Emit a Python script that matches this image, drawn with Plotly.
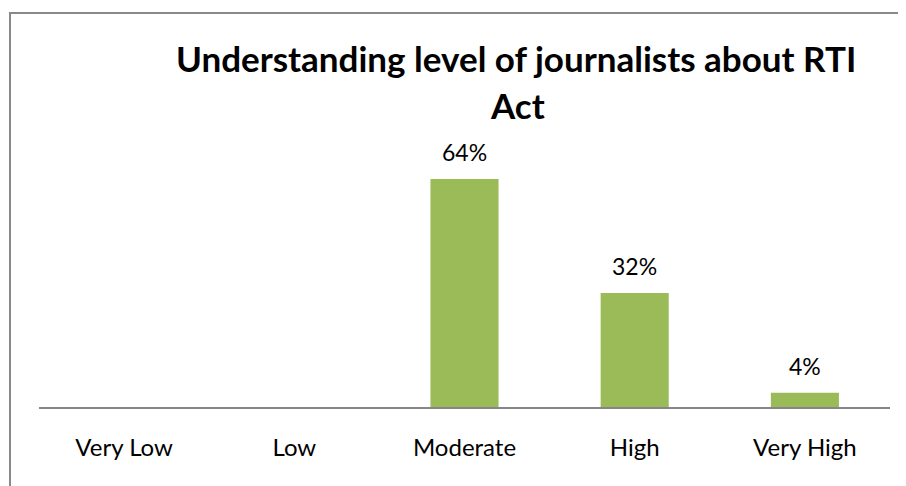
import plotly.graph_objects as go

categories = ["Very Low", "Low", "Moderate", "High", "Very High"]
values = [0, 0, 0.64, 0.32, 0.04]
title_lines = ["Understanding level of journalists about RTI", "Act"]

# page is rendered with an 8px body margin; figure coordinates = page - 8
W, H = 898, 478
L, R, T, B = 31, 16, 150, 79
pw, ph = W - L - R, H - T - B
FONT = "Lato, Open Sans, sans-serif"

fig = go.Figure()
fig.add_trace(go.Bar(
    x=categories, y=values,
    marker=dict(color="#9BBB59", line=dict(width=0)),
    width=0.4, hoverinfo="skip",
))

for c, v in zip(categories, values):
    if v > 0:
        fig.add_annotation(x=c, y=v, text=f"{round(v*100)}%", showarrow=False,
                           yanchor="middle", yshift=27,
                           font=dict(family=FONT, size=23, color="#000"))

def px_x(p):
    return (p - 8 - L) / pw

def px_y(p):
    return (H - B - (p - 8)) / ph

fig.add_annotation(xref="paper", yref="paper", x=px_x(516), y=px_y(58), text=f"<b>{title_lines[0]}</b>",
                   showarrow=False, xanchor="center", yanchor="middle",
                   font=dict(family=FONT, size=35, color="#000"))
fig.add_annotation(xref="paper", yref="paper", x=px_x(517), y=px_y(105), text=f"<b>{title_lines[1]}</b>",
                   showarrow=False, xanchor="center", yanchor="middle",
                   font=dict(family=FONT, size=35, color="#000"))

fig.add_shape(type="rect", xref="paper", yref="paper",
              x0=px_x(10), x1=px_x(930), y0=px_y(520), y1=px_y(13),
              line=dict(color="#898989", width=2), layer="below")

fig.update_layout(
    width=W, height=H,
    margin=dict(l=L, r=R, t=T, b=B),
    paper_bgcolor="white", plot_bgcolor="white",
    showlegend=False,
    xaxis=dict(showline=True, linecolor="#868686", linewidth=2, ticks="",
               tickfont=dict(family=FONT, size=24, color="#000"),
               showgrid=False, zeroline=False, ticklabelstandoff=18),
    yaxis=dict(range=[0, 0.699], visible=False, showgrid=False, zeroline=False),
)
fig.write_html("out.html")
